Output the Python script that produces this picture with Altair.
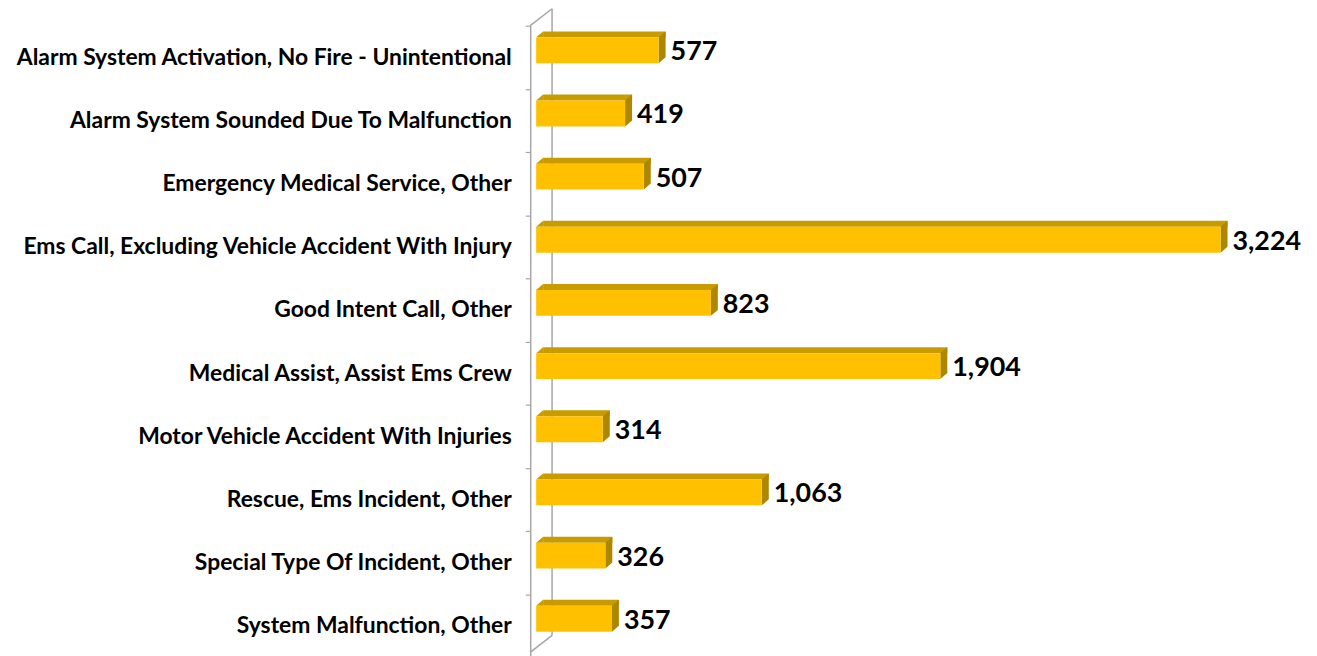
import altair as alt
import pandas as pd

categories = [
    "Alarm System Activation, No Fire - Unintentional",
    "Alarm System Sounded Due To Malfunction",
    "Emergency Medical Service, Other",
    "Ems Call, Excluding Vehicle Accident With Injury",
    "Good Intent Call, Other",
    "Medical Assist, Assist Ems Crew",
    "Motor Vehicle Accident With Injuries",
    "Rescue, Ems Incident, Other",
    "Special Type Of Incident, Other",
    "System Malfunction, Other",
]
counts = [577, 419, 507, 3224, 823, 1904, 314, 1063, 326, 357]

df = pd.DataFrame({"category": categories, "count": counts})
deco = pd.DataFrame({"a": [0]})

FRONT = "#FFC000"
TOP = "#C89B00"
SIDE = "#AE8700"
WALL = "#A6A6A6"

x_scale = alt.Scale(domain=[0, 3500], nice=False, zero=True)
y_scale = alt.Scale(paddingInner=0, paddingOuter=0)
y_enc = alt.Y("category:N", sort=None, scale=y_scale, title=None,
              axis=alt.Axis(offset=6, tickBand="extent", tickSize=5,
                            tickColor=WALL, domainColor=WALL, domainWidth=1.5,
                            tickWidth=1.2, labelPadding=14, labelFont="Lato",
                            labelFontWeight="bold", labelFontSize=23,
                            labelColor="#000000", labelLimit=0))
x_enc = alt.X("count:Q", scale=x_scale, axis=None)

base = alt.Chart(df)

top_face = base.mark_bar(color=TOP, height=6, yOffset=-23, xOffset=7, x2Offset=7).encode(
    x=x_enc, y=y_enc)
top_tri = base.mark_point(shape="M0,-20 L7,-26 L7,-20 Z", size=4, filled=True,
                          color=TOP, opacity=1, strokeWidth=0).encode(
    x=alt.X("zero:Q", scale=x_scale, axis=None), y=y_enc).transform_calculate(zero="0")
side = base.mark_point(shape="M0,-20 L0,6 L7,0 L7,-26 Z", size=4, filled=True,
                       color=SIDE, opacity=1, strokeWidth=0).encode(x=x_enc, y=y_enc)
front = base.mark_bar(color=FRONT, height=26, yOffset=-7).encode(x=x_enc, y=y_enc)
labels = base.mark_text(align="left", baseline="middle", dx=12, yOffset=-5,
                        font="Lato", fontWeight="bold", fontSize=27, color="#000000").encode(
    x=x_enc, y=y_enc, text=alt.Text("count:Q", format=","))

wall_back = alt.Chart(deco).mark_rule(color=WALL, strokeWidth=1.5).encode(
    x=alt.value(16), y=alt.value(-17), y2=alt.value(613))
wall_top = alt.Chart(deco).mark_rule(color=WALL, strokeWidth=1.5).encode(
    x=alt.value(-6), y=alt.value(0), x2=alt.value(16), y2=alt.value(-17))
wall_bottom = alt.Chart(deco).mark_rule(color=WALL, strokeWidth=1.5).encode(
    x=alt.value(16), y=alt.value(613), x2=alt.value(-6), y2=alt.value(630))

chart = alt.layer(
    wall_back, wall_top, wall_bottom, top_face, top_tri, side, front, labels
).properties(
    width=747, height=635,
    padding={"left": 531, "top": 16, "right": 30, "bottom": 5},
    autosize="none",
).configure(background="white", view={"stroke": None})

chart.save("out.html", embed_options={"renderer": "svg", "actions": False})
